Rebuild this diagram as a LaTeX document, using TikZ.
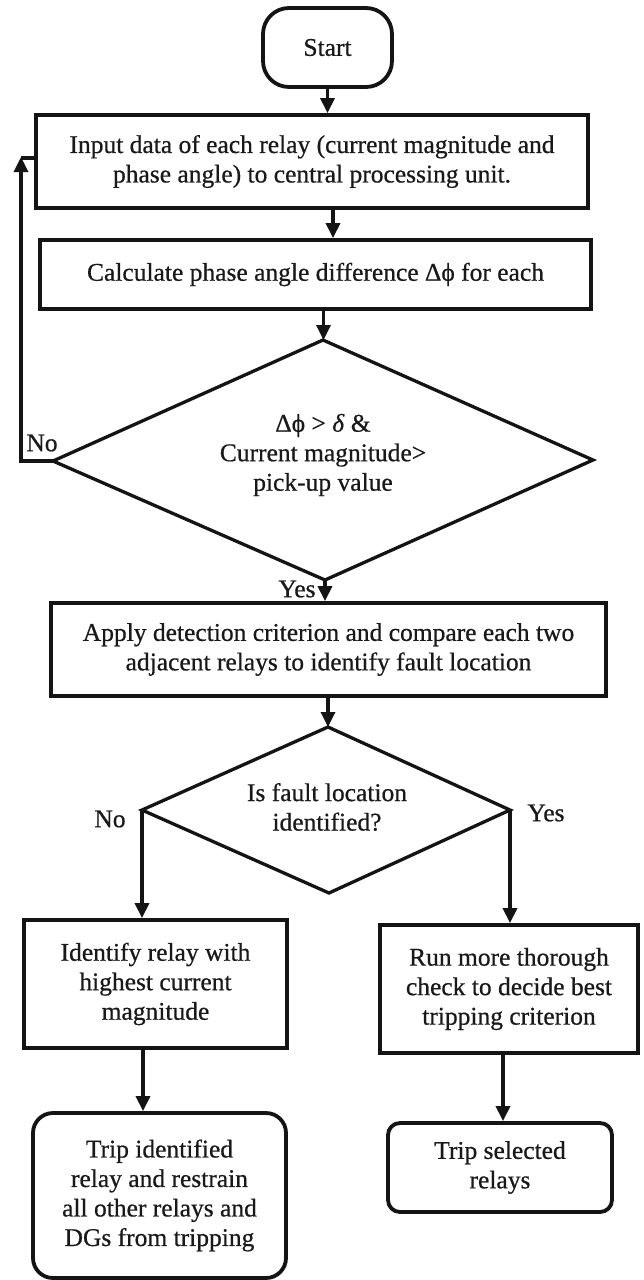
\documentclass[tikz,border=0pt]{standalone}
\usepackage{fontspec}
\setmainfont[FakeBold=0.6]{Liberation Serif}
\usetikzlibrary{arrows.meta}
\begin{document}
\begin{tikzpicture}[x=1pt,y=-1pt,
  ink/.style={draw=black!92},
  txt/.style={align=center, inner sep=0pt, text=black!90, font=\fontsize{25.5pt}{29.5pt}\selectfont},
  box/.style={txt, ink, line width=3.8pt},
  rbox/.style={box, rounded corners=#1},
  dia/.style={ink, line width=3.3pt, line join=miter},
  arr/.style={ink, line width=3.3pt, -{Triangle[length=15pt,width=14pt]}},
  lnk/.style={ink, line width=3.3pt}
]
\useasboundingbox (0,0) rectangle (643,1280);
\fill[white] (0,0) rectangle (643,1280);

% nodes
\node[rbox=26pt, minimum width=129pt, minimum height=79pt] (start) at (327.5,47.5) {Start};
\node[box, minimum width=552pt, minimum height=93pt] (box1) at (312,161.5)
  {Input data of each relay (current magnitude and\\phase angle) to central processing unit.};
\node[box, minimum width=551pt, minimum height=69pt] (box2) at (315.5,274.5)
  {Calculate phase angle difference Δϕ for each};

\coordinate (d1t) at (323,340);
\coordinate (d1r) at (593,460);
\coordinate (d1b) at (325,580);
\coordinate (d1l) at (53,461);
\draw[dia] (d1t) -- (d1r) -- (d1b) -- (d1l) -- cycle;
\node[txt] (d1) at (323,455) {Δϕ > \textit{δ} \&\\Current magnitude>\\pick-up value};

\node[box, minimum width=555pt, minimum height=93pt] (box3) at (328.5,649.5)
  {Apply detection criterion and compare each two\\adjacent relays to identify fault location};

\coordinate (d2t) at (328,727);
\coordinate (d2r) at (510,810);
\coordinate (d2b) at (329,893);
\coordinate (d2l) at (142,810);
\draw[dia] (d2t) -- (d2r) -- (d2b) -- (d2l) -- cycle;
\node[txt] (d2) at (327,807) {Is fault location\\identified?};

\node[box, minimum width=263pt, minimum height=128pt] (box4) at (155.5,984)
  {Identify relay with\\highest current\\magnitude};
\node[box, minimum width=258pt, minimum height=128pt] (box5) at (509,989)
  {Run more thorough\\check to decide best\\tripping criterion};
\node[rbox=20pt, minimum width=253pt, minimum height=165pt] (box6) at (159.5,1195.5)
  {Trip identified\\relay and restrain\\all other relays and\\DGs from tripping};
\node[rbox=12pt, minimum width=224pt, minimum height=89pt] (box7) at (500,1167.5)
  {Trip selected\\relays};

% labels
\node[txt] (no1) at (42,443) {No};
\node[txt] (yes1) at (297,589) {Yes};
\node[txt] (no2) at (110,819) {No};
\node[txt] (yes2) at (546,813) {Yes};

% connectors
\draw[arr] (start.south) -- (start.south |- box1.north);
\draw[arr] ([xshift=21pt]box1.south) -- ([xshift=21pt]box1.south |- box2.north);
\draw[arr] ([xshift=8pt]box2.south) -- ([xshift=8pt]box2.south |- d1t);
\coordinate (fbc) at (21,158);
\draw[arr] (d1l) -- (d1l -| fbc) -- ([yshift=1pt]fbc);
\draw[lnk] (fbc) -- (fbc -| box1.west);
\draw[arr] (d1b) -- (d1b |- box3.north);
\draw[arr] (box3.south -| d2t) -- (d2t);
\draw[arr] (d2l) -- (d2l |- box4.north);
\draw[arr] (d2r) -- (d2r |- box5.north);
\draw[arr] ([xshift=-12.5pt]box4.south) -- ([xshift=-12.5pt]box4.south |- box6.north);
\draw[arr] ([xshift=-6pt]box5.south) -- ([xshift=-6pt]box5.south |- box7.north);
\end{tikzpicture}
\end{document}
